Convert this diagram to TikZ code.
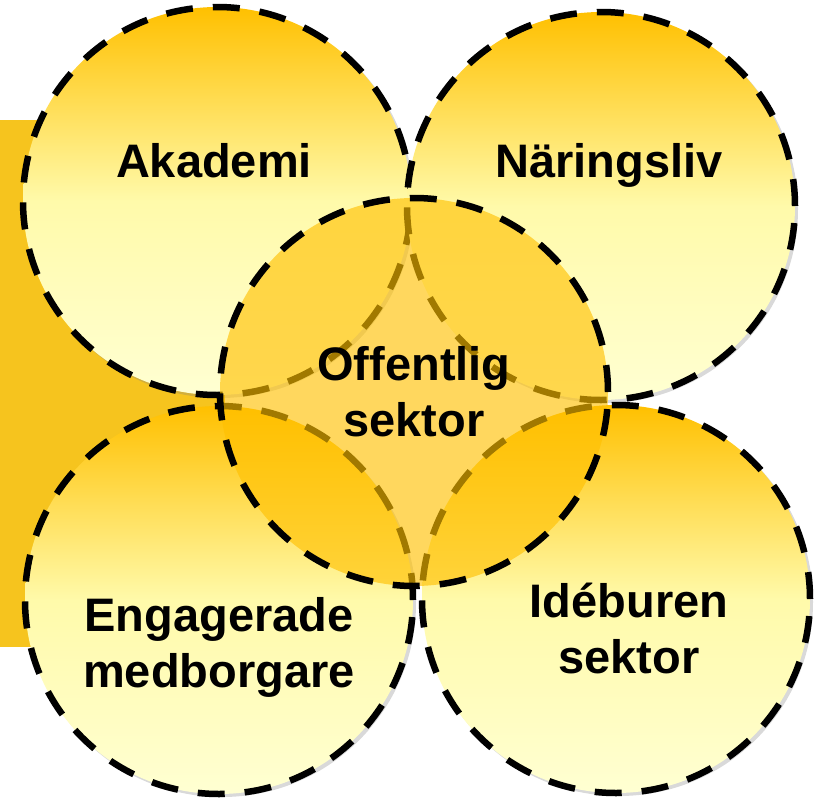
\documentclass[tikz,border=0pt]{standalone}
\usepackage{fontspec}
\setmainfont{Liberation Sans}
\usetikzlibrary{shapes.geometric}
\usetikzlibrary{shadows}

\definecolor{goldtop}{HTML}{FFC000}
\definecolor{goldmid}{HTML}{FFFAAA}
\definecolor{goldbot}{HTML}{FFFFD2}
\definecolor{sidebar}{HTML}{F6C41E}

\begin{document}
\begin{tikzpicture}[x=1pt,y=-1pt,
  ring/.style={circle,minimum size=388pt,inner sep=0pt,draw=black,line width=6.5pt,dash pattern=on 27pt off 20pt},
  sector/.style={ring,top color=goldtop,bottom color=goldbot,middle color=goldmid,
    drop shadow={shadow xshift=3pt,shadow yshift=-3pt,opacity=0.3}},
  lbl/.style={font=\bfseries\fontsize{47}{56}\selectfont,align=center,inner sep=0pt}]
\useasboundingbox (0,0) rectangle (819,798);

\fill [sidebar] (0,120) rectangle (225,647);

\begin{scope}
  \node [sector,name=akademi] at (217,201) {};
  \node [sector,name=naring] at (601,206) {};
  \node [sector,name=medborg] at (219,600) {};
  \node [sector,name=ideburen] at (616,599) {};
\end{scope}

\node [ring,name=offentlig,fill=goldtop,fill opacity=0.63] at (414,392) {};

\node [lbl,anchor=base] (akademiTxt) at (214,177) {Akademi};
\node [lbl,anchor=base] (naringTxt) at (609,177) {Näringsliv};
\node [lbl] (offentligTxt) at (414,392) {Offentlig\\sektor};
\node [lbl] (medborgTxt) at (219,647) {Engagerade\\medborgare};
\node [lbl] (ideburenTxt) at (629,628) {Idéburen\\sektor};
\end{tikzpicture}
\end{document}
